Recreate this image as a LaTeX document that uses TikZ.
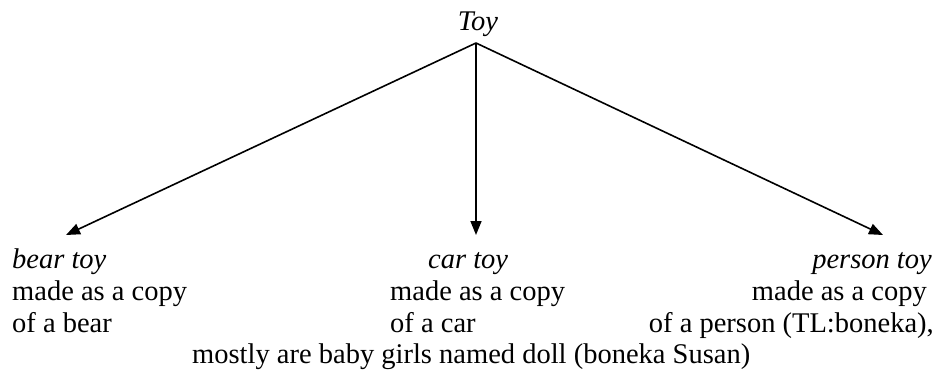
\documentclass[tikz,border=0pt]{standalone}
\usepackage{fontspec}
\setmainfont{Liberation Serif}
\usetikzlibrary{arrows.meta}
\begin{document}
\begin{tikzpicture}[x=1pt,y=-1pt,
  lbl/.style={inner sep=0pt,font=\fontsize{28.5}{31.7}\selectfont},
  conn/.style={line width=1.6pt,-{Triangle[length=14pt,width=11pt]}}]
\useasboundingbox (0,0) rectangle (939,374);
\node[lbl,anchor=base] (toy) at (478,31) {\itshape Toy};
\coordinate (apex) at (476,43);
\coordinate (tipL) at (66,235);
\coordinate (tipM) at (476,235);
\coordinate (tipR) at (883,235);
% left column
\node[lbl,anchor=base west] (bear) at (12,268) {\itshape bear toy};
\node[lbl,anchor=base west] (bear2) at (12,300) {made as a copy};
\node[lbl,anchor=base west] (bear3) at (12,332) {of a bear};
% middle column
\node[lbl,anchor=base west] (car) at (428,268) {\itshape car toy};
\node[lbl,anchor=base west] (car2) at (390,300) {made as a copy};
\node[lbl,anchor=base west] (car3) at (390,332) {of a car};
% right column
\node[lbl,anchor=base east] (person) at (932,268) {\itshape person toy};
\node[lbl,anchor=base east] (person2) at (927,300) {made as a copy};
\node[lbl,anchor=base east] (person3) at (934,332) {of a person (TL:boneka),};
\node[lbl,anchor=base west] (mostly) at (192,363) {mostly are baby girls named doll (boneka Susan)};
% connectors
\draw[conn] (apex) -- (tipL);
\draw[conn] (apex) -- (tipM);
\draw[conn] (apex) -- (tipR);
\end{tikzpicture}
\end{document}
